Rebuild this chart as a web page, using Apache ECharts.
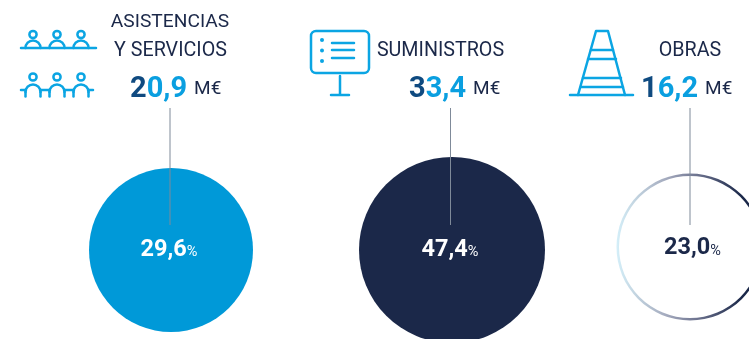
<!DOCTYPE html>
<html><head><meta charset="utf-8">
<style>html,body{margin:0;padding:0;background:#fff}#c{width:749px;height:339px}</style>
<script src="https://cdn.jsdelivr.net/npm/echarts@6/dist/echarts.min.js"></script></head>
<body><div id="c"></div>
<script>
const categories = ['ASISTENCIAS Y SERVICIOS', 'SUMINISTROS', 'OBRAS'];
const amounts = ['20,9', '33,4', '16,2'];
const shares = [29.6, 47.4, 23.0];
const unit = 'M€';

const NAVY = '#1b2849', BLUE = '#0099d8', ICON = '#0ba5e3', FONT = 'Roboto';
const chart = echarts.init(document.getElementById('c'), null, {renderer:'canvas'});
const shareText = v => v.toFixed(1).replace('.', ',');

const pies = [
  {center:[171,250], radius:[0,82], color:BLUE, text:'#fff', off:[-2,0]},
  {center:[452,250], radius:[0,93], color:NAVY, text:'#fff', off:[-2,0]},
  {center:[690,247], radius:[71,73.5], text:NAVY, off:[2.5,1.5], color:new echarts.graphic.LinearGradient(0,0,1,0,[
    {offset:0,color:'#d4eff9'},{offset:0.12,color:'#c4d6e2'},{offset:0.35,color:'#a2a8bc'},{offset:0.55,color:'#6d738f'},{offset:0.85,color:NAVY},{offset:1,color:NAVY}])}
];
const series = pies.map((p,i)=>({
  type:'pie', silent:true, center:p.center, radius:p.radius, startAngle:90, clockwise:true,
  data:[{name:categories[i], value:shares[i]}],
  itemStyle:{color:p.color, borderWidth:0},
  labelLine:{show:false}, emphasis:{disabled:true},
  label:{show:true, position:'center', offset:p.off, formatter:()=>`{n|${shareText(shares[i])}}{p|%}`,
    rich:{n:{fontFamily:FONT,fontWeight:'bold',fontSize:23.5,color:p.text},
          p:{fontFamily:FONT,fontSize:14.5,color:p.text,padding:[5,0,0,0]}}}
}));

function amountTitle(i,cx,cy){
  const a = amounts[i];
  return {type:'text', left:cx, top:cy, z:10, style:{
    text:`{a|${a[0]}}{b|${a.slice(1)}}{u|${unit}}`, fontFamily:FONT,
    rich:{a:{fontFamily:FONT,fontWeight:'bold',fontSize:29,fill:'#0f4a80',lineHeight:34},
          b:{fontFamily:FONT,fontWeight:'bold',fontSize:29,fill:'#0a9fe0',lineHeight:34},
          u:{fontFamily:FONT,fontSize:19,fill:NAVY,lineHeight:34,padding:[0,0,0,7]}}}};
}
const head = (t,x,y,fs)=>({type:'text',x,y,z:10,style:{text:t,fontFamily:FONT,fontSize:fs||19.7,fill:NAVY,textAlign:'center',textVerticalAlign:'middle'}});
const st = {stroke:ICON,lineWidth:2.5,fill:'none',lineCap:'round',lineJoin:'round'};
const L = (x1,y1,x2,y2,s)=>({type:'line',shape:{x1,y1,x2,y2},z:5,style:Object.assign({},st,s||{})});
const C = (cx,cy,r)=>({type:'circle',shape:{cx,cy,r},z:5,style:st});
const A = (cx,cy,r,a,b)=>({type:'arc',shape:{cx,cy,r,startAngle:a,endAngle:b,clockwise:true},z:5,style:st});
const icons = [];
[33,57,81].forEach(x=>{
  icons.push(C(x,34.5,3.6), A(x,48,7.5,Math.PI,2*Math.PI));
  icons.push(C(x,77,3.6), A(x,92,7.5,Math.PI,2*Math.PI), L(x-7.5,92,x-7.5,96.5), L(x+7.5,92,x+7.5,96.5));
});
icons.push(L(21,48,96,48), L(21,90,26,90), L(40,90,50,90), L(64,90,74,90), L(88,90,93,90));
icons.push({type:'rect',shape:{x:311,y:31,width:58,height:42,r:5},z:5,style:st});
[40,50.5,61].forEach(y=>icons.push({type:'circle',shape:{cx:322,cy:y,r:2},z:5,style:{fill:ICON}}));
[43,50,58].forEach(y=>icons.push(L(332,y,354,y)));
icons.push(L(340,76,340,94), L(331,95,349,95));
icons.push({type:'polyline',shape:{points:[[578,95],[596,31],[608,31],[625,95]]},z:5,style:st});
[[591,613,50],[588,616,59],[583,621,78],[581,623,87]].forEach(r=>icons.push(L(r[0],r[2],r[1],r[2])));
icons.push(L(570,95,633,95));

const leader = x=>L(x,108,x,225,{stroke:'#7f8a99',lineWidth:1,lineCap:'butt'});

chart.setOption({
  animation:false, backgroundColor:'#fff', series,
  graphic:{elements:[
    ...icons,
    head('ASISTENCIAS',170,22,19.2), head('Y SERVICIOS',170.5,51), head(categories[1],440.5,51), head(categories[2],690,51),
    amountTitle(0,130,75), amountTitle(1,409,75), amountTitle(2,641,75),
    leader(170), leader(450.5), leader(690)
  ].map(e=>Object.assign(e,{silent:true}))}
});
</script></body></html>
